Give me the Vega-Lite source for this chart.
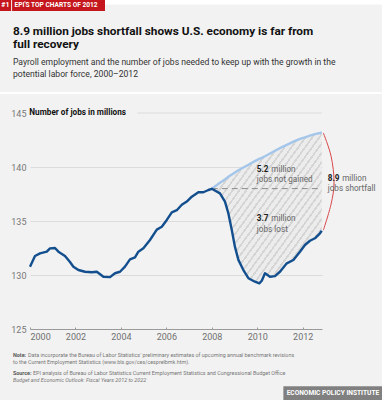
{
  "$schema": "https://vega.github.io/schema/vega-lite/v6.json",
  "autosize": {"type": "none"},
  "width": 292,
  "height": 216,
  "padding": {"left": 30, "top": 113, "right": 60, "bottom": 71},
  "background": "#f2f2f2",
  "datasets": {
    "payroll": [
      {"year": 2000.0, "jobs": 130.77}, {"year": 2000.22, "jobs": 131.76}, {"year": 2000.44, "jobs": 132.0},
      {"year": 2000.74, "jobs": 132.16}, {"year": 2000.88, "jobs": 132.47}, {"year": 2001.1, "jobs": 132.5},
      {"year": 2001.25, "jobs": 132.16}, {"year": 2001.54, "jobs": 131.76}, {"year": 2001.76, "jobs": 131.2},
      {"year": 2001.91, "jobs": 130.77}, {"year": 2002.13, "jobs": 130.46}, {"year": 2002.42, "jobs": 130.3},
      {"year": 2002.72, "jobs": 130.25}, {"year": 2002.94, "jobs": 130.3}, {"year": 2003.23, "jobs": 129.84},
      {"year": 2003.52, "jobs": 129.8}, {"year": 2003.74, "jobs": 130.16}, {"year": 2003.96, "jobs": 130.3},
      {"year": 2004.18, "jobs": 130.77}, {"year": 2004.4, "jobs": 131.45}, {"year": 2004.62, "jobs": 131.64},
      {"year": 2004.77, "jobs": 132.16}, {"year": 2004.99, "jobs": 132.47}, {"year": 2005.28, "jobs": 133.24},
      {"year": 2005.58, "jobs": 134.2}, {"year": 2005.8, "jobs": 134.47}, {"year": 2006.02, "jobs": 135.1},
      {"year": 2006.24, "jobs": 135.8}, {"year": 2006.46, "jobs": 136.0}, {"year": 2006.68, "jobs": 136.5},
      {"year": 2006.9, "jobs": 136.8}, {"year": 2007.12, "jobs": 137.25}, {"year": 2007.41, "jobs": 137.66},
      {"year": 2007.63, "jobs": 137.66}, {"year": 2007.85, "jobs": 137.87}, {"year": 2008.0, "jobs": 137.98},
      {"year": 2008.36, "jobs": 137.56}, {"year": 2008.58, "jobs": 136.8}, {"year": 2008.73, "jobs": 135.7},
      {"year": 2008.88, "jobs": 134.17}, {"year": 2009.02, "jobs": 132.6}, {"year": 2009.17, "jobs": 131.4},
      {"year": 2009.39, "jobs": 130.46}, {"year": 2009.61, "jobs": 129.7}, {"year": 2009.9, "jobs": 129.38},
      {"year": 2010.09, "jobs": 129.23}, {"year": 2010.2, "jobs": 129.47}, {"year": 2010.34, "jobs": 130.16},
      {"year": 2010.56, "jobs": 129.84}, {"year": 2010.78, "jobs": 129.9}, {"year": 2011.0, "jobs": 130.3},
      {"year": 2011.3, "jobs": 131.08}, {"year": 2011.59, "jobs": 131.39}, {"year": 2011.88, "jobs": 132.16},
      {"year": 2012.1, "jobs": 132.78}, {"year": 2012.32, "jobs": 133.17}, {"year": 2012.54, "jobs": 133.4},
      {"year": 2012.76, "jobs": 133.86}, {"year": 2012.84, "jobs": 134.1}
    ],
    "gap": [
      {"year": 2008.0, "potential": 138.0, "actual": 137.98}, {"year": 2008.36, "potential": 138.55, "actual": 137.56},
      {"year": 2008.58, "potential": 138.85, "actual": 136.8}, {"year": 2008.73, "potential": 139.1, "actual": 135.7},
      {"year": 2008.88, "potential": 139.3, "actual": 134.17}, {"year": 2009.02, "potential": 139.5, "actual": 132.6},
      {"year": 2009.17, "potential": 139.7, "actual": 131.4}, {"year": 2009.39, "potential": 139.95, "actual": 130.46},
      {"year": 2009.61, "potential": 140.2, "actual": 129.7}, {"year": 2009.9, "potential": 140.55, "actual": 129.38},
      {"year": 2010.09, "potential": 140.75, "actual": 129.23}, {"year": 2010.2, "potential": 140.85, "actual": 129.47},
      {"year": 2010.34, "potential": 141.0, "actual": 130.16}, {"year": 2010.56, "potential": 141.25, "actual": 129.84},
      {"year": 2010.78, "potential": 141.5, "actual": 129.9}, {"year": 2011.0, "potential": 141.75, "actual": 130.3},
      {"year": 2011.3, "potential": 142.05, "actual": 131.08}, {"year": 2011.59, "potential": 142.35, "actual": 131.39},
      {"year": 2011.88, "potential": 142.6, "actual": 132.16}, {"year": 2012.1, "potential": 142.75, "actual": 132.78},
      {"year": 2012.32, "potential": 142.9, "actual": 133.17}, {"year": 2012.54, "potential": 143.05, "actual": 133.4},
      {"year": 2012.76, "potential": 143.15, "actual": 133.86}, {"year": 2012.84, "potential": 143.2, "actual": 134.1}
    ],
    "bracket": [
      {"i": 0, "year": 2012.91, "jobs": 143.15}, {"i": 1, "year": 2013.25, "jobs": 141.0},
      {"i": 2, "year": 2013.38, "jobs": 138.6}, {"i": 3, "year": 2013.25, "jobs": 136.57},
      {"i": 4, "year": 2012.91, "jobs": 134.15}
    ],
    "labels": [
      {"num": "5.2", "line2": "jobs not gained", "x": 2009.98, "y1": 139.52, "y2": 138.6},
      {"num": "3.7", "line2": "jobs lost", "x": 2009.98, "y1": 135.02, "y2": 134.0},
      {"num": "8.9", "line2": "jobs shortfall", "x": 2013.1, "y1": 138.72, "y2": 137.74}
    ],
    "one": [{"k": 1}]
  },
  "layer": [
    {
      "data": {"name": "one"},
      "mark": {"type": "rect", "color": "#ffffff"},
      "encoding": {"x": {"datum": 1998.6}, "x2": {"datum": 2015.6}, "y": {"datum": 155.5}, "y2": {"datum": 155.05}}
    },
    {
      "data": {"name": "one"},
      "mark": {"type": "rule", "color": "#ffffff", "strokeWidth": 2},
      "encoding": {"x": {"datum": 1998.6}, "x2": {"datum": 2015.6}, "y": {"datum": 146.85}}
    },
    {
      "data": {"name": "one"},
      "mark": {"type": "rect", "color": "#c4161c"},
      "encoding": {"x": {"datum": 1998.6}, "x2": {"datum": 2003.3}, "y": {"datum": 155.5}, "y2": {"datum": 154.45}}
    },
    {
      "data": {"name": "one"},
      "mark": {"type": "rule", "color": "#f2f2f2", "strokeWidth": 1},
      "encoding": {"x": {"datum": 1999.19}, "y": {"datum": 155.5}, "y2": {"datum": 154.45}}
    },
    {
      "data": {"name": "one"},
      "mark": {"type": "text", "text": "#1", "color": "#ffffff", "fontWeight": "bold", "fontSize": 7, "align": "left", "baseline": "middle"},
      "encoding": {"x": {"datum": 1998.74}, "y": {"datum": 154.97}}
    },
    {
      "data": {"name": "one"},
      "mark": {"type": "text", "text": "EPI'S TOP CHARTS OF 2012", "color": "#ffffff", "fontWeight": "bold", "fontSize": 6.6, "align": "left", "baseline": "middle"},
      "encoding": {"x": {"datum": 1999.32}, "y": {"datum": 154.97}}
    },
    {
      "data": {"name": "one"},
      "mark": {"type": "text", "text": "8.9 million jobs shortfall shows U.S. economy is far from", "color": "#111111", "fontWeight": "bold", "fontSize": 11.8, "align": "left", "baseline": "alphabetic"},
      "encoding": {"x": {"datum": 1999.25}, "y": {"datum": 152.2}}
    },
    {
      "data": {"name": "one"},
      "mark": {"type": "text", "text": "full recovery", "color": "#111111", "fontWeight": "bold", "fontSize": 11.8, "align": "left", "baseline": "alphabetic"},
      "encoding": {"x": {"datum": 1999.25}, "y": {"datum": 150.98}}
    },
    {
      "data": {"name": "one"},
      "mark": {"type": "text", "text": "Payroll employment and the number of jobs needed to keep up with the growth in the", "color": "#333333", "fontSize": 8.6, "align": "left", "baseline": "alphabetic"},
      "encoding": {"x": {"datum": 1999.25}, "y": {"datum": 149.44}}
    },
    {
      "data": {"name": "one"},
      "mark": {"type": "text", "text": "potential labor force, 2000–2012", "color": "#333333", "fontSize": 8.6, "align": "left", "baseline": "alphabetic"},
      "encoding": {"x": {"datum": 1999.25}, "y": {"datum": 148.33}}
    },
    {
      "data": {"name": "one"},
      "mark": {"type": "rule", "color": "#dcdcdc", "strokeWidth": 1},
      "encoding": {"x": {"datum": 2004.72}, "x2": {"datum": 2012.85}, "y": {"datum": 145}}
    },
    {
      "data": {"name": "gap"},
      "mark": {
        "type": "area",
        "color": {
          "gradient": "linear", "x1": 0, "y1": 0, "x2": 1, "y2": 1,
          "stops": [
            {"offset": 0.0, "color": "#d5d5d5"}, {"offset": 0.01, "color": "#d5d5d5"}, {"offset": 0.01, "color": "#ececec"}, {"offset": 0.03125, "color": "#ececec"},
            {"offset": 0.03125, "color": "#d5d5d5"}, {"offset": 0.04125, "color": "#d5d5d5"}, {"offset": 0.04125, "color": "#ececec"}, {"offset": 0.0625, "color": "#ececec"},
            {"offset": 0.0625, "color": "#d5d5d5"}, {"offset": 0.0725, "color": "#d5d5d5"}, {"offset": 0.0725, "color": "#ececec"}, {"offset": 0.09375, "color": "#ececec"},
            {"offset": 0.09375, "color": "#d5d5d5"}, {"offset": 0.10375, "color": "#d5d5d5"}, {"offset": 0.10375, "color": "#ececec"}, {"offset": 0.125, "color": "#ececec"},
            {"offset": 0.125, "color": "#d5d5d5"}, {"offset": 0.135, "color": "#d5d5d5"}, {"offset": 0.135, "color": "#ececec"}, {"offset": 0.15625, "color": "#ececec"},
            {"offset": 0.15625, "color": "#d5d5d5"}, {"offset": 0.16625, "color": "#d5d5d5"}, {"offset": 0.16625, "color": "#ececec"}, {"offset": 0.1875, "color": "#ececec"},
            {"offset": 0.1875, "color": "#d5d5d5"}, {"offset": 0.1975, "color": "#d5d5d5"}, {"offset": 0.1975, "color": "#ececec"}, {"offset": 0.21875, "color": "#ececec"},
            {"offset": 0.21875, "color": "#d5d5d5"}, {"offset": 0.22875, "color": "#d5d5d5"}, {"offset": 0.22875, "color": "#ececec"}, {"offset": 0.25, "color": "#ececec"},
            {"offset": 0.25, "color": "#d5d5d5"}, {"offset": 0.26, "color": "#d5d5d5"}, {"offset": 0.26, "color": "#ececec"}, {"offset": 0.28125, "color": "#ececec"},
            {"offset": 0.28125, "color": "#d5d5d5"}, {"offset": 0.29125, "color": "#d5d5d5"}, {"offset": 0.29125, "color": "#ececec"}, {"offset": 0.3125, "color": "#ececec"},
            {"offset": 0.3125, "color": "#d5d5d5"}, {"offset": 0.3225, "color": "#d5d5d5"}, {"offset": 0.3225, "color": "#ececec"}, {"offset": 0.34375, "color": "#ececec"},
            {"offset": 0.34375, "color": "#d5d5d5"}, {"offset": 0.35375, "color": "#d5d5d5"}, {"offset": 0.35375, "color": "#ececec"}, {"offset": 0.375, "color": "#ececec"},
            {"offset": 0.375, "color": "#d5d5d5"}, {"offset": 0.385, "color": "#d5d5d5"}, {"offset": 0.385, "color": "#ececec"}, {"offset": 0.40625, "color": "#ececec"},
            {"offset": 0.40625, "color": "#d5d5d5"}, {"offset": 0.41625, "color": "#d5d5d5"}, {"offset": 0.41625, "color": "#ececec"}, {"offset": 0.4375, "color": "#ececec"},
            {"offset": 0.4375, "color": "#d5d5d5"}, {"offset": 0.4475, "color": "#d5d5d5"}, {"offset": 0.4475, "color": "#ececec"}, {"offset": 0.46875, "color": "#ececec"},
            {"offset": 0.46875, "color": "#d5d5d5"}, {"offset": 0.47875, "color": "#d5d5d5"}, {"offset": 0.47875, "color": "#ececec"}, {"offset": 0.5, "color": "#ececec"},
            {"offset": 0.5, "color": "#d5d5d5"}, {"offset": 0.51, "color": "#d5d5d5"}, {"offset": 0.51, "color": "#ececec"}, {"offset": 0.53125, "color": "#ececec"},
            {"offset": 0.53125, "color": "#d5d5d5"}, {"offset": 0.54125, "color": "#d5d5d5"}, {"offset": 0.54125, "color": "#ececec"}, {"offset": 0.5625, "color": "#ececec"},
            {"offset": 0.5625, "color": "#d5d5d5"}, {"offset": 0.5725, "color": "#d5d5d5"}, {"offset": 0.5725, "color": "#ececec"}, {"offset": 0.59375, "color": "#ececec"},
            {"offset": 0.59375, "color": "#d5d5d5"}, {"offset": 0.60375, "color": "#d5d5d5"}, {"offset": 0.60375, "color": "#ececec"}, {"offset": 0.625, "color": "#ececec"},
            {"offset": 0.625, "color": "#d5d5d5"}, {"offset": 0.635, "color": "#d5d5d5"}, {"offset": 0.635, "color": "#ececec"}, {"offset": 0.65625, "color": "#ececec"},
            {"offset": 0.65625, "color": "#d5d5d5"}, {"offset": 0.66625, "color": "#d5d5d5"}, {"offset": 0.66625, "color": "#ececec"}, {"offset": 0.6875, "color": "#ececec"},
            {"offset": 0.6875, "color": "#d5d5d5"}, {"offset": 0.6975, "color": "#d5d5d5"}, {"offset": 0.6975, "color": "#ececec"}, {"offset": 0.71875, "color": "#ececec"},
            {"offset": 0.71875, "color": "#d5d5d5"}, {"offset": 0.72875, "color": "#d5d5d5"}, {"offset": 0.72875, "color": "#ececec"}, {"offset": 0.75, "color": "#ececec"},
            {"offset": 0.75, "color": "#d5d5d5"}, {"offset": 0.76, "color": "#d5d5d5"}, {"offset": 0.76, "color": "#ececec"}, {"offset": 0.78125, "color": "#ececec"},
            {"offset": 0.78125, "color": "#d5d5d5"}, {"offset": 0.79125, "color": "#d5d5d5"}, {"offset": 0.79125, "color": "#ececec"}, {"offset": 0.8125, "color": "#ececec"},
            {"offset": 0.8125, "color": "#d5d5d5"}, {"offset": 0.8225, "color": "#d5d5d5"}, {"offset": 0.8225, "color": "#ececec"}, {"offset": 0.84375, "color": "#ececec"},
            {"offset": 0.84375, "color": "#d5d5d5"}, {"offset": 0.85375, "color": "#d5d5d5"}, {"offset": 0.85375, "color": "#ececec"}, {"offset": 0.875, "color": "#ececec"},
            {"offset": 0.875, "color": "#d5d5d5"}, {"offset": 0.885, "color": "#d5d5d5"}, {"offset": 0.885, "color": "#ececec"}, {"offset": 0.90625, "color": "#ececec"},
            {"offset": 0.90625, "color": "#d5d5d5"}, {"offset": 0.91625, "color": "#d5d5d5"}, {"offset": 0.91625, "color": "#ececec"}, {"offset": 0.9375, "color": "#ececec"},
            {"offset": 0.9375, "color": "#d5d5d5"}, {"offset": 0.9475, "color": "#d5d5d5"}, {"offset": 0.9475, "color": "#ececec"}, {"offset": 0.96875, "color": "#ececec"},
            {"offset": 0.96875, "color": "#d5d5d5"}, {"offset": 0.97875, "color": "#d5d5d5"}, {"offset": 0.97875, "color": "#ececec"}, {"offset": 1.0, "color": "#ececec"}
          ]
        }
      },
      "encoding": {
        "x": {"field": "year", "type": "quantitative", "title": null},
        "y": {"field": "potential", "type": "quantitative", "title": null},
        "y2": {"field": "actual"}
      }
    },
    {
      "data": {"name": "one"},
      "mark": {"type": "rule", "color": "#8c8c8c", "strokeWidth": 1, "strokeDash": [6, 4]},
      "encoding": {"x": {"datum": 2008.0}, "x2": {"datum": 2012.84}, "y": {"datum": 138.0}}
    },
    {
      "data": {"name": "gap"},
      "mark": {"type": "line", "color": "#a4c6ea", "strokeWidth": 2.4},
      "encoding": {
        "x": {"field": "year", "type": "quantitative", "title": null},
        "y": {"field": "potential", "type": "quantitative", "title": null}
      }
    },
    {
      "data": {"name": "payroll"},
      "mark": {"type": "line", "color": "#134f8e", "strokeWidth": 2.4, "strokeJoin": "round"},
      "encoding": {
        "x": {
          "field": "year", "type": "quantitative", "title": null,
          "scale": {"domain": [2000, 2012.85], "nice": false, "zero": false},
          "axis": {
            "values": [2000, 2002, 2004, 2006, 2008, 2010, 2012], "format": "d",
            "grid": false, "domain": true, "domainColor": "#9a9a9a", "ticks": true, "tickSize": -2, "tickColor": "#9a9a9a",
            "labelColor": "#707070", "labelFontSize": 9, "labelPadding": 5
          }
        },
        "y": {
          "field": "jobs", "type": "quantitative", "title": null,
          "scale": {"domain": [125, 145], "nice": false, "zero": false},
          "axis": {
            "values": [125, 130, 135, 140, 145], "grid": true, "gridColor": "#dcdcdc",
            "gridOpacity": {"condition": {"test": "datum.value == 145 || datum.value == 125", "value": 0}, "value": 1},
            "domain": false, "ticks": false, "labelColor": "#777777", "labelFontSize": 9, "labelPadding": 4
          }
        }
      }
    },
    {
      "data": {"name": "bracket"},
      "mark": {"type": "line", "color": "#d8474a", "strokeWidth": 1, "interpolate": "cardinal"},
      "encoding": {
        "x": {"field": "year", "type": "quantitative", "title": null},
        "y": {"field": "jobs", "type": "quantitative", "title": null},
        "order": {"field": "i"}
      }
    },
    {
      "data": {"name": "one"},
      "mark": {"type": "text", "text": "Number of jobs in millions", "color": "#111111", "fontWeight": "bold", "fontSize": 8.2, "align": "left", "baseline": "middle"},
      "encoding": {"x": {"datum": 1999.97}, "y": {"datum": 145}}
    },
    {
      "data": {"name": "labels"},
      "mark": {"type": "text", "color": "#222222", "fontWeight": "bold", "fontSize": 8.2, "align": "left", "baseline": "alphabetic"},
      "encoding": {"x": {"field": "x", "type": "quantitative"}, "y": {"field": "y1", "type": "quantitative"}, "text": {"field": "num"}}
    },
    {
      "data": {"name": "labels"},
      "mark": {"type": "text", "text": "million", "color": "#666666", "fontSize": 8.2, "align": "left", "baseline": "alphabetic", "dx": 14.5},
      "encoding": {"x": {"field": "x", "type": "quantitative"}, "y": {"field": "y1", "type": "quantitative"}}
    },
    {
      "data": {"name": "labels"},
      "mark": {"type": "text", "color": "#666666", "fontSize": 8.2, "align": "left", "baseline": "alphabetic"},
      "encoding": {"x": {"field": "x", "type": "quantitative"}, "y": {"field": "y2", "type": "quantitative"}, "text": {"field": "line2"}}
    },
    {
      "data": {"name": "one"},
      "mark": {"type": "text", "text": "Note:", "color": "#555555", "fontWeight": "bold", "fontSize": 5.4, "align": "left", "baseline": "middle"},
      "encoding": {"x": {"datum": 1999.25}, "y": {"datum": 122.59}}
    },
    {
      "data": {"name": "one"},
      "mark": {"type": "text", "text": "Data incorporate the Bureau of Labor Statistics' preliminary estimates of upcoming annual benchmark revisions", "color": "#777777", "fontSize": 5.4, "align": "left", "baseline": "middle", "dx": 15},
      "encoding": {"x": {"datum": 1999.25}, "y": {"datum": 122.59}}
    },
    {
      "data": {"name": "one"},
      "mark": {"type": "text", "text": "to the Current Employment Statistics (www.bls.gov/ces/cesprelbmk.htm).", "color": "#777777", "fontSize": 5.4, "align": "left", "baseline": "middle"},
      "encoding": {"x": {"datum": 1999.25}, "y": {"datum": 121.92}}
    },
    {
      "data": {"name": "one"},
      "mark": {"type": "text", "text": "Source:", "color": "#555555", "fontWeight": "bold", "fontSize": 5.4, "align": "left", "baseline": "middle"},
      "encoding": {"x": {"datum": 1999.25}, "y": {"datum": 120.95}}
    },
    {
      "data": {"name": "one"},
      "mark": {"type": "text", "text": "EPI analysis of Bureau of Labor Statistics Current Employment Statistics and Congressional Budget Office", "color": "#777777", "fontSize": 5.4, "align": "left", "baseline": "middle", "dx": 20},
      "encoding": {"x": {"datum": 1999.25}, "y": {"datum": 120.95}}
    },
    {
      "data": {"name": "one"},
      "mark": {"type": "text", "text": "Budget and Economic Outlook: Fiscal Years 2012 to 2022", "color": "#777777", "fontSize": 5.4, "fontStyle": "italic", "align": "left", "baseline": "middle"},
      "encoding": {"x": {"datum": 1999.25}, "y": {"datum": 120.28}}
    },
    {
      "data": {"name": "one"},
      "mark": {"type": "rect", "color": "#808080"},
      "encoding": {"x": {"datum": 2011.15}, "x2": {"datum": 2015.6}, "y": {"datum": 119.7}, "y2": {"datum": 118.3}}
    },
    {
      "data": {"name": "one"},
      "mark": {"type": "text", "text": "ECONOMIC POLICY INSTITUTE", "color": "#ffffff", "fontWeight": "bold", "fontSize": 6.6, "align": "center", "baseline": "middle"},
      "encoding": {"x": {"datum": 2013.33}, "y": {"datum": 119.05}}
    }
  ],
  "config": {
    "font": "Roboto",
    "view": {"stroke": null},
    "axis": {"labelFont": "Roboto"},
    "text": {"font": "Roboto"}
  }
}
